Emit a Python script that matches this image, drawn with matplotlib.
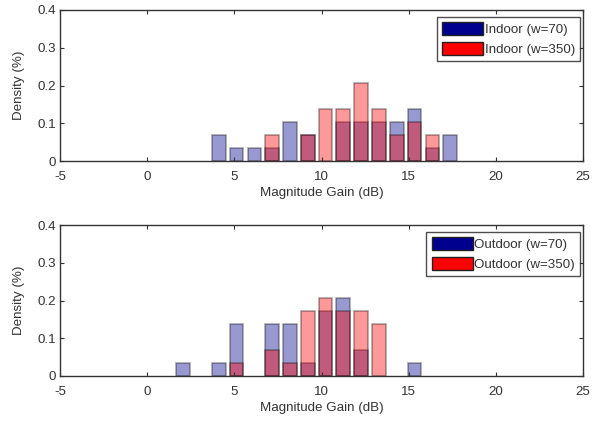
import matplotlib.pyplot as plt
from matplotlib.patches import Patch
import numpy as np

plt.rcParams['font.family'] = ['Liberation Sans', 'DejaVu Sans']
plt.rcParams['axes.unicode_minus'] = False

# histogram bin centres (dB) and densities for each set
indoor_centers = [4.11, 5.13, 6.15, 7.17, 8.19, 9.21, 10.23, 11.25,
                  12.28, 13.30, 14.32, 15.34, 16.36, 17.38]
indoor_w70 = [0.069, 0.034, 0.034, 0.034, 0.103, 0.069, 0.0, 0.103,
              0.103, 0.103, 0.103, 0.138, 0.034, 0.069]
indoor_w350 = [0.0, 0.0, 0.0, 0.069, 0.0, 0.069, 0.138, 0.138,
               0.207, 0.138, 0.069, 0.103, 0.069, 0.0]

outdoor_centers = [2.07, 3.09, 4.11, 5.13, 6.15, 7.17, 8.19, 9.21,
                   10.23, 11.25, 12.27, 13.29, 14.31, 15.33]
outdoor_w70 = [0.034, 0.0, 0.034, 0.138, 0.0, 0.138, 0.138, 0.034,
               0.172, 0.207, 0.069, 0.0, 0.0, 0.034]
outdoor_w350 = [0.0, 0.0, 0.0, 0.034, 0.0, 0.069, 0.034, 0.172,
                0.207, 0.172, 0.172, 0.138, 0.0, 0.0]

navy = (0.0, 0.0, 0.56)
red = (1.0, 0.0, 0.0)
fs = 9.6

fig = plt.figure(figsize=(5.94, 4.21), dpi=100)
ax1 = fig.add_axes([60 / 594, 1 - 161 / 421, 523 / 594, 151 / 421])
ax2 = fig.add_axes([60 / 594, 1 - 376 / 421, 523 / 594, 151 / 421])

panels = [(ax1, indoor_centers, indoor_w70, indoor_w350, 'Indoor'),
          (ax2, outdoor_centers, outdoor_w70, outdoor_w350, 'Outdoor')]

for ax, centers, w70, w350, name in panels:
    x = np.array(centers)
    for vals, col in [(w70, navy), (w350, red)]:
        h = np.array(vals)
        m = h > 0
        ax.bar(x[m], h[m], width=0.78, color=col, alpha=0.4,
               edgecolor=(0.05, 0.05, 0.05, 0.85), linewidth=1.1)
    ax.set_xlim(-5, 25)
    ax.set_ylim(0, 0.4)
    ax.set_xticks([-5, 0, 5, 10, 15, 20, 25])
    ax.set_yticks([0, 0.1, 0.2, 0.3, 0.4])
    ax.set_yticklabels(['0', '0.1', '0.2', '0.3', '0.4'])
    ax.tick_params(direction='in', top=True, right=True, length=3,
                   labelsize=fs, labelcolor='#333333', color='#333333')
    ax.tick_params(axis='x', pad=7)
    ax.tick_params(axis='y', pad=3)
    for s in ax.spines.values():
        s.set_color('#333333')
        s.set_linewidth(1.0)
    ax.set_xlabel('Magnitude Gain (dB)', fontsize=fs, color='#333333', labelpad=3)
    ax.set_ylabel('Density (%)', fontsize=fs, color='#333333', labelpad=9)
    handles = [Patch(facecolor=navy, edgecolor='#222222'),
               Patch(facecolor=red, edgecolor='#222222')]
    leg = ax.legend(handles, [name + ' (w=70)', name + ' (w=350)'],
                    loc='upper right', bbox_to_anchor=(0.995, 0.955),
                    fontsize=fs, frameon=True, fancybox=False,
                    handlelength=3.1, handleheight=1.1, handletextpad=0.1,
                    borderpad=0.4, labelspacing=0.45, borderaxespad=0.0)
    leg.get_frame().set_edgecolor('#222222')
    leg.get_frame().set_linewidth(1.0)
    for t in leg.get_texts():
        t.set_color('#333333')

fig.savefig('out.png', dpi=100)
